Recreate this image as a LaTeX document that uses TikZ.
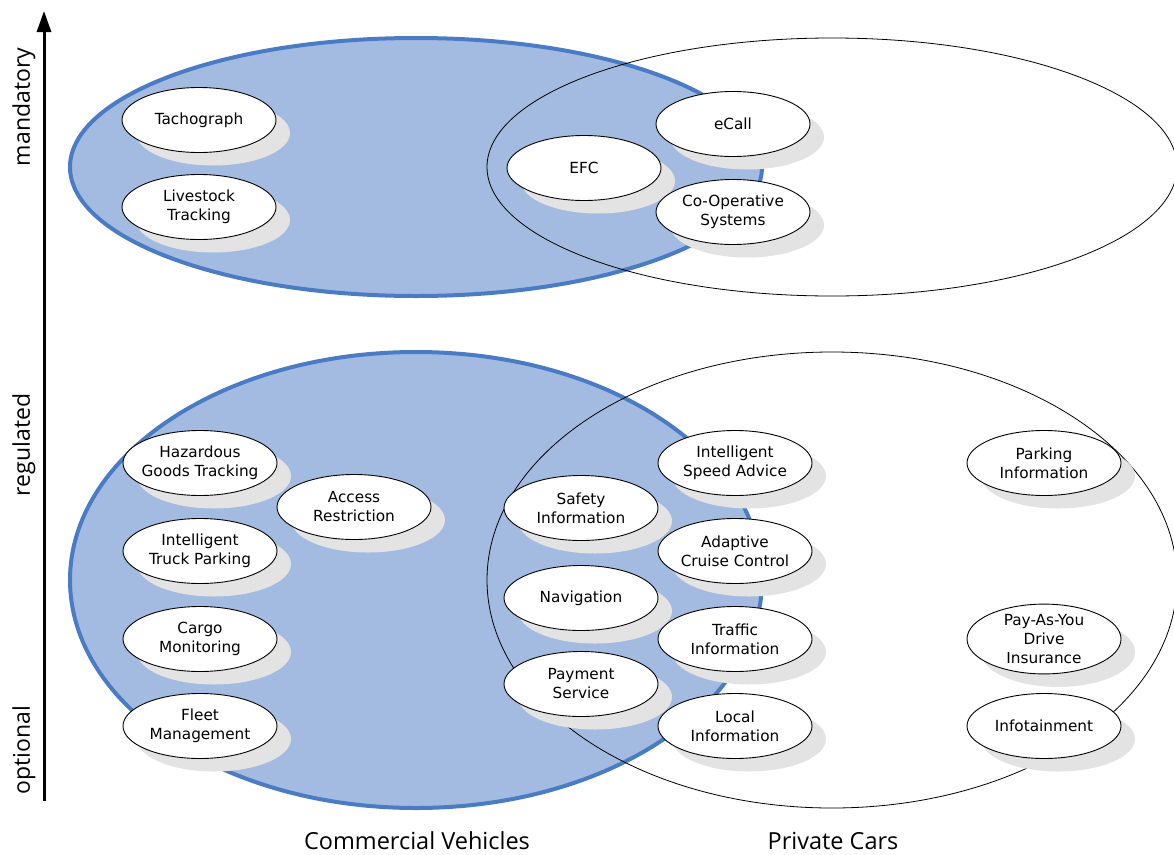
\documentclass[tikz,border=0pt]{standalone}
\usepackage{fontspec}
\setmainfont{DejaVu Sans}
\newfontfamily\axisfont{Open Sans}
\usetikzlibrary{shapes.geometric,shadows,arrows.meta}
\definecolor{cvfill}{HTML}{A3BBE0}
\definecolor{cvedge}{HTML}{4A7BC5}
\definecolor{shadegray}{HTML}{E3E3E3}
\begin{document}
\begin{tikzpicture}[x=1pt,y=-1pt,
  svc/.style={ellipse, draw=black, line width=0.9pt, fill=white,
    minimum width=154pt, minimum height=65pt, inner xsep=-14pt, inner ysep=0pt,
    align=center, font=\fontsize{15.3}{19}\selectfont,
    drop shadow={shadow xshift=14pt, shadow yshift=-13pt, fill=shadegray, opacity=1}},
  cvarea/.style={fill=cvfill, draw=cvedge, line width=4pt},
  pcarea/.style={draw=black, line width=0.8pt},
  axislabel/.style={font=\axisfont\fontsize{23}{27}\selectfont, rotate=90},
  grouplabel/.style={font=\axisfont\fontsize{23.5}{27}\selectfont, inner sep=0pt, anchor=base}]
\useasboundingbox (0,0) rectangle (1174,854);

% user groups: commercial vehicles (filled) and private cars (outline)
\draw[cvarea] (416,167) ellipse [x radius=346pt, y radius=129pt];
\draw[pcarea] (832,167) ellipse [x radius=345pt, y radius=129pt];
\draw[cvarea] (416,580) ellipse [x radius=346pt, y radius=228pt];
\draw[pcarea] (832,580) ellipse [x radius=345pt, y radius=228pt];

% vertical axis
\coordinate (axisbot) at (44,801);
\coordinate (axistop) at (44,11);
\draw[line width=3pt, -{Triangle[length=21pt, width=14pt]}] (axisbot) -- (axistop);
\node[axislabel] (lmand) at (24,107) {mandatory};
\node[axislabel] (lreg) at (24,445) {regulated};
\node[axislabel] (lopt) at (24,750) {optional};

% group labels
\node[grouplabel] (lcv) at (417,849) {Commercial Vehicles};
\node[grouplabel] (lpc) at (833,849) {Private Cars};

% mandatory services
\node[svc] (tacho) at (199,120) {Tachograph};
\node[svc] (livestock) at (199,207) {Livestock\\Tracking};
\node[svc] (efc) at (584,168) {EFC};
\node[svc] (ecall) at (733,124) {eCall};
\node[svc] (coop) at (733,212) {Co-Operative\\Systems};

% regulated / optional services
\node[svc] (hazard) at (200,463) {Hazardous\\Goods Tracking};
\node[svc] (access) at (354,507) {Access\\Restriction};
\node[svc] (truckpark) at (200,551) {Intelligent\\Truck Parking};
\node[svc] (cargo) at (200,639) {Cargo\\Monitoring};
\node[svc] (fleet) at (200,726) {Fleet\\Management};
\node[svc] (safety) at (581,508) {Safety\\Information};
\node[svc] (navi) at (581,598) {Navigation};
\node[svc] (payment) at (581,684) {Payment\\Service};
\node[svc] (isa) at (735,463) {Intelligent\\Speed Advice};
\node[svc] (acc) at (735,551) {Adaptive\\Cruise Control};
\node[svc] (traffic) at (735,639) {Traffic\\Information};
\node[svc] (local) at (735,726) {Local\\Information};
\node[svc] (parking) at (1044,463) {Parking\\Information};
\node[svc] (payd) at (1044,639) {Pay-As-You\\Drive\\Insurance};
\node[svc] (info) at (1044,726) {Infotainment};
\end{tikzpicture}
\end{document}
